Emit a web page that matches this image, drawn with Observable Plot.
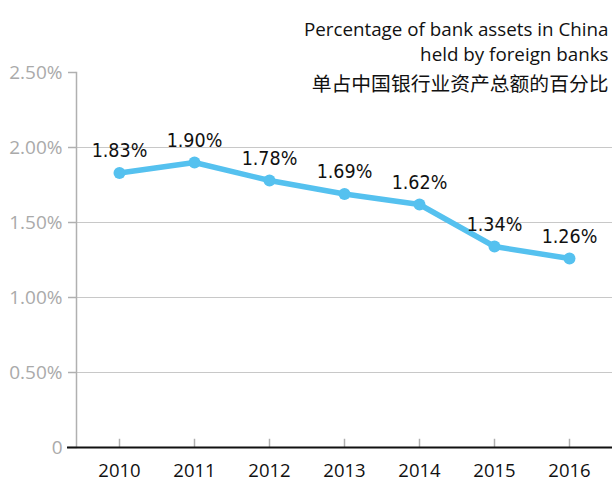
<!DOCTYPE html>
<html>
<head>
<meta charset="utf-8">
<script src="https://cdn.jsdelivr.net/npm/d3@7"></script>
<script src="https://cdn.jsdelivr.net/npm/@observablehq/plot@0.6"></script>
<style>
  html, body { margin: 0; padding: 0; background: #fff; }
  #chart svg { display: block; }
</style>
</head>
<body>
<div id="chart"></div>
<script>
const years = [2010, 2011, 2012, 2013, 2014, 2015, 2016];
const shares = [1.83, 1.90, 1.78, 1.69, 1.62, 1.34, 1.26];
const yTicks = [0, 0.5, 1.0, 1.5, 2.0, 2.5];
const gridTicks = [0.5, 1.0, 1.5, 2.0];
const titleLines = ["Percentage of bank assets in China", "held by foreign banks"];
const titleZh = "单占中国银行业资产总额的百分比";

const data = years.map((y, i) => ({year: y, value: shares[i]}));
const blue = "#55c1ef";
const latin = "'Open Sans', sans-serif";

const chart = Plot.plot({
  width: 612,
  height: 482,
  marginLeft: 76,
  marginRight: 0,
  marginTop: 72,
  marginBottom: 35,
  style: {fontFamily: latin, background: "#fff", overflow: "visible"},
  x: {type: "point", domain: years, padding: 0.56},
  y: {domain: [0, 2.5]},
  marks: [
    Plot.gridY(gridTicks, {stroke: "#c8c8c8", strokeOpacity: 1, strokeWidth: 1}),
    Plot.frame({anchor: "left", stroke: "#b0b0b0", strokeWidth: 1.5}),
    Plot.axisY(yTicks, {
      tickSize: 8, tickPadding: 6, stroke: "#b0b0b0", strokeWidth: 1.5,
      fill: "#aaaaaa", fontSize: 19, label: null,
      tickFormat: d => d === 0 ? "0" : d.toFixed(2) + "%"
    }),
    Plot.ruleX(years, {x: d => d, y1: 0, y2: 0.055, stroke: "#b0b0b0", strokeWidth: 1.5}),
    Plot.ruleY([0], {stroke: "#111", strokeWidth: 2, insetLeft: -9}),
    Plot.axisX({tickSize: 0, tickPadding: 16, fontSize: 18.5, fill: "#111", label: null, tickFormat: d => String(d)}),
    Plot.line(data, {x: "year", y: "value", stroke: blue, strokeWidth: 5.5, strokeLinejoin: "round"}),
    Plot.dot(data, {x: "year", y: "value", r: 6, fill: blue, stroke: "none"}),
    Plot.text(data, {x: "year", y: "value", text: d => d.value.toFixed(2) + "%", dy: -22,
      fontSize: 19.5, fontFamily: "'DejaVu Sans Condensed', 'DejaVu Sans', sans-serif", fontStretch: "condensed", fill: "#111"}),
    Plot.text([titleLines[0]], {frameAnchor: "top-right", dx: -4, dy: -50, textAnchor: "end",
      fontSize: 18.8, fill: "#111"}),
    Plot.text([titleLines[1]], {frameAnchor: "top-right", dx: -4, dy: -25, textAnchor: "end",
      fontSize: 18.8, fill: "#111"}),
    Plot.text([titleZh], {frameAnchor: "top-right", dx: -4, dy: 4, textAnchor: "end",
      fontSize: 19.8, fontFamily: "'Noto Sans CJK SC', sans-serif", fill: "#111"})
  ]
});
document.getElementById("chart").appendChild(chart);
</script>
</body>
</html>
